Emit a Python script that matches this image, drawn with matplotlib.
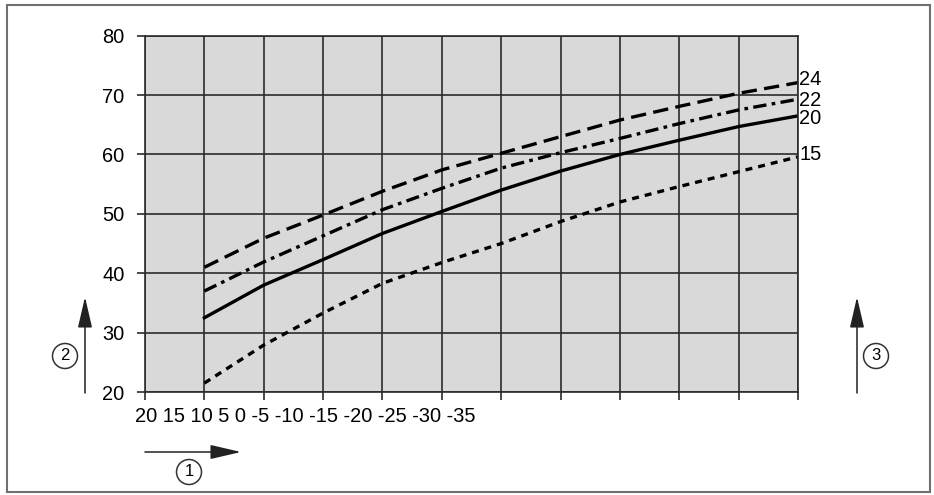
import matplotlib
matplotlib.use('Agg')
import matplotlib.pyplot as plt

plt.rcParams['font.family'] = ['Liberation Sans', 'DejaVu Sans']

# grid columns (x index) and curve values
x_pos = [1, 2, 3, 4, 5, 6, 7, 8, 9, 10, 11]
c24 = [41.0, 45.9, 49.8, 53.8, 57.4, 60.2, 63.0, 65.8, 68.1, 70.3, 72.1]
c22 = [37.0, 41.9, 46.3, 50.7, 54.3, 57.7, 60.3, 62.7, 65.2, 67.5, 69.3]
c20 = [32.5, 38.0, 42.3, 46.7, 50.4, 54.0, 57.2, 60.0, 62.4, 64.7, 66.5]
c15 = [21.5, 27.9, 33.3, 38.3, 41.8, 45.0, 48.7, 52.0, 54.6, 57.1, 59.6]
curve_labels = ['24', '22', '20', '15']
label_y = [72.6, 69.1, 66.0, 60.0]

y_ticks = [20, 30, 40, 50, 60, 70, 80]
x_tick_text = ['20', '15', '10', '5', '0', '-5', '-10', '-15', '-20', '-25', '-30', '-35']

grid_col = '#2b2b2b'

fig = plt.figure(figsize=(9.34, 4.95), dpi=100)
ax = fig.add_axes([145/934, 1 - 392/495, 653/934, 356.3/495])
ax.set_facecolor('#d9d9d9')

ax.plot(x_pos, c24, color='black', lw=2.4, dashes=(4.6, 2.2), dash_capstyle='butt')
ax.plot(x_pos, c22, color='black', lw=2.4, dashes=(4.0, 1.6, 1.1, 1.6), dash_capstyle='butt')
ax.plot(x_pos, c20, color='black', lw=2.4)
ax.plot(x_pos, c15, color='black', lw=2.4, dashes=(2.1, 1.8), dash_capstyle='butt')

for lab, yy in zip(curve_labels, label_y):
    ax.annotate(lab, xy=(11, yy), xytext=(1, 0), textcoords='offset points',
                ha='left', va='center', fontsize=14.4, annotation_clip=False)

ax.set_xlim(0, 11)
ax.set_ylim(20, 80)
ax.set_xticks(range(12))
ax.set_xticklabels([])
ax.set_yticks(y_ticks)
ax.set_yticklabels([str(v) for v in y_ticks], fontsize=14.4)
ax.tick_params(axis='both', length=5.8, width=1.2, color=grid_col, direction='out')
ax.tick_params(axis='y', pad=9)
ax.grid(True, color=grid_col, lw=1.2)
ax.set_axisbelow(True)
for s in ax.spines.values():
    s.set_color(grid_col)
    s.set_linewidth(1.2)

# x scale written as one line of text
fig.text(135/934, 1 - 417/495, ' '.join(x_tick_text), fontsize=14.4,
         ha='left', va='center')

# arrows
arr = dict(arrowstyle='-|>,head_length=0.95,head_width=0.22', color='#222222',
           lw=1.1, mutation_scale=20, shrinkA=0, shrinkB=0)
fig.add_artist(matplotlib.patches.FancyArrowPatch((145/934, 1 - 452/495), (241/934, 1 - 452/495),
                                                  transform=fig.transFigure, **arr))
fig.add_artist(matplotlib.patches.FancyArrowPatch((85/934, 1 - 393/495), (85/934, 1 - 297/495),
                                                  transform=fig.transFigure, **arr))
fig.add_artist(matplotlib.patches.FancyArrowPatch((857/934, 1 - 393/495), (857/934, 1 - 297/495),
                                                  transform=fig.transFigure, **arr))

circ = dict(boxstyle='circle,pad=0.3', fc='white', ec='#333333', lw=1.1)
for num, (px, py) in zip(['1', '2', '3'], [(189, 472), (65, 356), (876, 356)]):
    fig.text(px/934, 1 - py/495, num, fontsize=12, ha='center', va='center', bbox=circ)

# outer frame
fig.add_artist(matplotlib.patches.Rectangle((7/934, 1 - 492/495), 923/934, 487/495,
                                            transform=fig.transFigure, fill=False,
                                            ec='#707070', lw=1.5))

fig.savefig('out.png', dpi=100)
